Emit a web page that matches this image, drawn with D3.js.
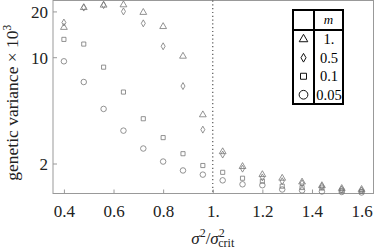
<!DOCTYPE html>
<html>
<head>
<meta charset="utf-8">
<script src="https://cdn.jsdelivr.net/npm/d3@7"></script>
<style>
  body { margin: 0; background: #fff; }
  svg { display: block; }
  svg text { font-family: "Liberation Serif", "Times New Roman", Times, "DejaVu Serif", serif !important; }
</style>
</head>
<body>
<svg id="chart"></svg>
<script>
// sigma^2 / sigma^2_crit
const ratio = [0.4, 0.48, 0.56, 0.64, 0.72, 0.8, 0.88, 0.96, 1.04, 1.12, 1.2, 1.28, 1.36, 1.44, 1.52, 1.6];
// genetic variance x 10^3, one array per migration rate m
const m1 = [15.7, 21.2, 22.0, 22.1, 19.7, 15.9, 10.15, 4.18, 2.39, 1.91, 1.69, 1.6, 1.51, 1.43, 1.37, 1.35];
const m05 = [16.9, 21.2, 22.0, 20.0, 16.7, 11.8, 6.46, 3.34, 2.29, 1.85, 1.62, 1.53, 1.48, 1.41, 1.35, 1.33];
const m01 = [13.1, 12.2, 8.6, 5.9, 3.94, 2.96, 2.32, 1.94, 1.75, 1.6, 1.53, 1.42, 1.39, 1.38, 1.33, 1.31];
const m005 = [9.4, 6.87, 4.57, 3.29, 2.51, 2.06, 1.8, 1.69, 1.55, 1.46, 1.44, 1.35, 1.33, 1.31, 1.3, 1.29];
const mLabels = ['1.', '0.5', '0.1', '0.05'];
const xTicks = [0.4, 0.6, 0.8, 1.0, 1.2, 1.4, 1.6];
const xTickLabels = ['0.4', '0.6', '0.8', '1.', '1.2', '1.4', '1.6'];
const yTicks = [2, 10, 20];

const width = 374, height = 251;
const plotLeft = 53, plotRight = 373.5, plotTop = 0.5, plotBottom = 193.5;

const svg = d3.select('#chart').attr('width', width).attr('height', height);

const x = d3.scaleLinear().domain([0.356, 1.648]).range([plotLeft, plotRight]);
const y = d3.scaleLog().domain([1.27, 23.6]).range([plotBottom, plotTop]);

const symbols = [d3.symbolTriangle, d3.symbolDiamond, d3.symbolSquare, d3.symbolCircle];
const series = [m1, m05, m01, m005];

// frame
svg.append('rect')
  .attr('x', plotLeft).attr('y', plotTop)
  .attr('width', plotRight - plotLeft).attr('height', plotBottom - plotTop)
  .attr('fill', 'none').attr('stroke', '#999').attr('stroke-width', 1);

// axes (ticks point inward)
const xAxis = svg.append('g')
  .attr('transform', `translate(0, ${plotBottom})`)
  .call(d3.axisBottom(x).tickValues(xTicks).tickSize(-4).tickFormat((d, i) => xTickLabels[i]))
  .attr('font-family', null).attr('font-size', 17);
xAxis.select('.domain').remove();
xAxis.selectAll('line').attr('stroke', '#999');
xAxis.selectAll('text').attr('dy', 0).attr('y', 23).attr('fill', '#222');

const yAxis = svg.append('g')
  .attr('transform', `translate(${plotLeft}, 0)`)
  .call(d3.axisLeft(y).tickValues(yTicks).tickSize(-4).tickFormat(d3.format('d')))
  .attr('font-family', null).attr('font-size', 17);
yAxis.select('.domain').remove();
yAxis.selectAll('line').attr('stroke', '#999');
yAxis.selectAll('text').attr('x', -5).attr('dy', '0.35em').attr('fill', '#222');

// critical line
svg.append('line')
  .attr('x1', x(1)).attr('x2', x(1))
  .attr('y1', plotTop).attr('y2', plotBottom)
  .attr('stroke', '#555').attr('stroke-width', 1.2)
  .attr('stroke-dasharray', '1.2,2.6');

// points
series.forEach((vals, s) => {
  const sizes = [20, 14, 17, 24];
  svg.append('g').selectAll('path')
    .data(vals)
    .enter().append('path')
    .attr('d', d3.symbol().type(symbols[s]).size(sizes[s]))
    .attr('transform', (d, i) => `translate(${x(ratio[i])}, ${y(d)})`)
    .attr('fill', 'none')
    .attr('stroke', '#777')
    .attr('stroke-width', 0.8);
});

// legend table
const lx = 293, ly = 10, lw = 50, colX = 314, rowH = 18.5, headH = 20;
const legend = svg.append('g');
legend.append('rect')
  .attr('x', lx).attr('y', ly).attr('width', lw).attr('height', headH + rowH * 4)
  .attr('fill', '#fff').attr('stroke', '#000').attr('stroke-width', 2);
legend.append('line')
  .attr('x1', colX).attr('x2', colX).attr('y1', ly).attr('y2', ly + headH + rowH * 4)
  .attr('stroke', '#000').attr('stroke-width', 2);
legend.append('line')
  .attr('x1', lx).attr('x2', lx + lw).attr('y1', ly + headH).attr('y2', ly + headH)
  .attr('stroke', '#000').attr('stroke-width', 2);
legend.append('text')
  .attr('x', (colX + lx + lw) / 2).attr('y', ly + 14)
  .attr('text-anchor', 'middle').attr('font-size', 13).attr('font-style', 'italic')
  .text('m');
mLabels.forEach((lab, i) => {
  const cy = ly + headH + rowH * (i + 0.5);
  const legendSizes = [32, 22, 36, 60];
  legend.append('path')
    .attr('d', d3.symbol().type(symbols[i]).size(legendSizes[i]))
    .attr('transform', `translate(${(lx + colX) / 2}, ${cy})`)
    .attr('fill', 'none').attr('stroke', '#111').attr('stroke-width', 1);
  legend.append('text')
    .attr('x', (colX + lx + lw) / 2 + 0.5).attr('y', cy + 5)
    .attr('text-anchor', 'middle').attr('font-size', 14.5)
    .text(lab);
});

// axis titles
const yl = svg.append('text')
  .attr('transform', `translate(18, ${plotBottom / 2 + 6}) rotate(-90)`)
  .attr('text-anchor', 'middle').attr('font-size', 17.5).attr('fill', '#222');
yl.append('tspan').text('genetic variance × 10');
yl.append('tspan').attr('dy', -7).attr('font-size', 11.5).text('3');

const xl = svg.append('text')
  .attr('x', x(1)).attr('y', 244)
  .attr('text-anchor', 'middle').attr('font-size', 17).attr('fill', '#222');
xl.append('tspan').attr('font-style', 'italic').text('σ');
xl.append('tspan').attr('dy', -7).attr('font-size', 12).text('2');
xl.append('tspan').attr('dy', 7).text('/');
xl.append('tspan').attr('font-style', 'italic').text('σ');
xl.append('tspan').attr('dy', -7).attr('font-size', 12).text('2');
xl.append('tspan').attr('dx', -6.5).attr('dy', 10).attr('font-size', 12).text('crit');
</script>
</body>
</html>
